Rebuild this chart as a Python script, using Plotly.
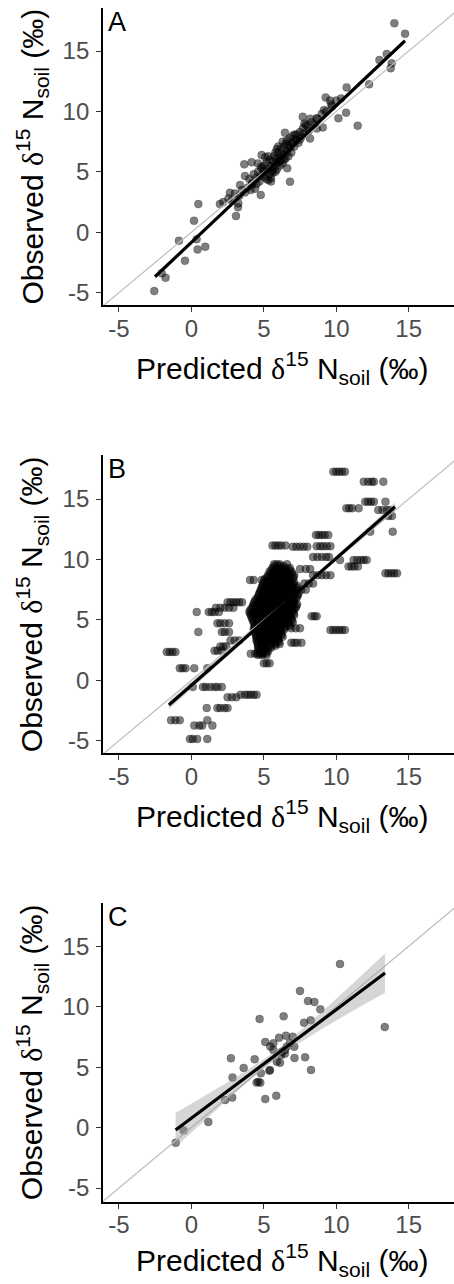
import plotly.graph_objects as go

W, H = 454, 1284

# ---- data ----
# panel A: (predicted, observed)
a_points = [
    (14.01, 17.29), (14.75, 16.43), (13.49, 14.75), (12.98, 14.25), (13.83, 13.98),
    (13.76, 13.57), (12.27, 12.24), (10.72, 11.99), (10.33, 11.08), (9.27, 11.16),
    (9.57, 10.9), (9.65, 10.6), (9.16, 10.12), (10.68, 9.9), (10.15, 9.43),
    (11.48, 8.82), (7.69, 9.56), (8.2, 9.4), (8.65, 9.43), (9.07, 8.68),
    (8.66, 8.58), (8.19, 7.77), (6.46, 8.24), (7.15, 8.1), (7.5, 7.7),
    (4.85, 6.39), (3.65, 5.62), (4.16, 5.8), (6.62, 5.29), (6.81, 4.18),
    (3.7, 4.65), (3.36, 3.91), (4.79, 3.08), (5.5, 4.2), (4.2, 3.95),
    (2.66, 3.27), (1.97, 2.33), (2.56, 2.8), (3.24, 2.39), (3.22, 2.06),
    (3.08, 1.34), (0.48, 2.33), (0.18, 0.95), (-0.86, -0.7), (0.36, -0.57),
    (0.43, -1.42), (0.96, -1.2), (-0.44, -2.36), (-1.78, -3.77), (-2.05, -3.4),
    (-2.56, -4.87), (5.31, 4.32),
    (3.0, 3.2), (3.3, 3.0), (3.5, 3.5), (3.7, 3.3), (3.9, 3.7), (4.0, 4.4),
    (4.1, 3.5), (4.2, 4.1), (4.3, 4.8), (4.4, 3.6), (4.5, 4.5), (4.5, 4.0),
    (4.6, 5.0), (4.7, 4.2), (4.8, 4.7), (4.8, 5.4), (4.9, 5.3), (5.0, 4.6),
    (5.0, 5.5), (5.1, 5.0), (5.2, 4.4), (5.2, 5.8), (5.3, 5.2), (5.4, 4.8),
    (5.4, 6.0), (5.5, 5.5), (5.5, 4.5), (5.6, 5.9), (5.6, 5.1), (5.7, 6.3),
    (5.7, 5.4), (5.8, 5.7), (5.8, 6.6), (5.9, 5.2), (5.9, 6.1), (6.0, 5.8),
    (6.0, 6.6), (6.1, 6.2), (6.1, 5.5), (6.2, 6.9), (6.2, 6.0), (6.3, 6.4),
    (6.3, 5.7), (6.4, 7.1), (6.4, 6.5), (6.5, 6.1), (6.5, 7.3), (6.6, 6.7),
    (6.6, 7.6), (6.7, 6.3), (6.7, 7.2), (6.8, 7.0), (6.8, 7.8), (6.9, 6.6),
    (7.0, 7.4), (7.0, 8.0), (7.1, 7.1), (7.2, 7.7), (7.3, 8.1), (7.4, 7.4),
    (7.5, 8.3), (7.6, 7.9), (7.7, 8.6), (7.8, 8.2), (8.0, 8.8), (8.1, 8.4),
    (8.3, 9.1), (8.5, 8.9), (8.7, 9.4), (9.0, 9.8), (9.3, 10.0), (9.7, 10.4),
    (10.0, 10.9), (2.2, 2.5), (2.8, 2.6), (5.3, 6.3), (5.9, 6.9), (6.3, 7.5),
    (4.6, 5.7), (5.1, 6.2), (6.9, 7.4), (7.3, 7.6), (7.9, 8.9), (5.6, 4.9),
    (6.1, 5.9), (6.4, 6.0), (5.8, 5.0), (5.0, 5.1), (6.0, 7.1), (7.8, 9.0),
]

# panel B: each observed value with the predicted values sharing it
b_obs = [
    17.26, 16.43, 14.78, 14.23, 14.09, 13.6, 12.3, 12.02, 11.15, 11.05, 11.1,
    10.2, 9.95, 9.42, 8.85, 8.7, 9.2, 8.3, 8.0, 7.5, 5.3, 4.16, 4.3, 3.1, 1.4,
    2.2, 6.45, 6.0, 5.65, 4.72, 4.0, 3.3, 2.8, 2.45, 2.35, 1.0, -0.55, -1.4,
    -1.2, -2.3, -3.3, -3.75, -4.85,
    9.6, 9.3, 9.0, 8.7, 8.4, 8.1, 7.8, 7.5, 7.2, 6.9, 6.6, 6.3, 6.0, 5.7, 5.4,
    5.1, 4.8, 4.5, 4.2, 3.9, 3.6, 3.3, 3.0, 2.7, 2.4, 2.1,
    9.45, 9.15, 8.85, 8.55, 8.25, 7.95, 7.65, 7.35, 7.05, 6.75, 6.45, 6.15,
    5.85, 5.55, 5.25, 4.95, 4.65, 4.35, 4.05, 3.75, 3.45, 3.15, 2.85, 2.55, 2.25,
]
b_pred = [
    [9.8, 10.0, 10.2, 10.4, 10.6],
    [11.9, 12.2, 12.45, 12.6, 13.25],
    [12.0, 12.2, 12.4, 12.6, 13.4],
    [10.7, 10.9, 11.1, 11.55],
    [12.9, 13.2, 13.5, 13.7],
    [13.6, 13.85],
    [12.35, 13.9],
    [8.6, 8.8, 9.0, 9.2, 9.45],
    [5.6, 5.8, 6.0, 6.2, 6.5],
    [7.0, 7.25, 7.5, 7.75, 8.0],
    [8.65, 8.9, 9.1, 9.35, 9.6],
    [8.4, 8.7, 9.0, 9.3, 9.5],
    [10.26, 11.2, 11.45, 11.7, 11.9, 12.1],
    [10.85, 11.05, 11.25, 11.5],
    [13.4, 13.6, 13.8, 14.0, 14.2],
    [8.4, 8.7, 9.0, 9.3, 9.6],
    [7.5, 7.9, 8.2],
    [4.05, 4.3, 4.86],
    [7.8, 8.1, 8.4],
    [7.6, 7.9],
    [8.3, 8.5, 8.65],
    [9.6, 9.8, 10.0, 10.2, 10.4, 10.6],
    [6.9, 7.2, 7.5],
    [6.9, 7.1, 7.3, 7.6],
    [5.0, 5.2, 5.4],
    [4.1, 4.4, 4.7, 4.9],
    [2.5, 2.7, 2.9, 3.1, 3.3, 3.5],
    [1.7, 2.0, 2.3, 2.6, 2.9],
    [0.37, 1.2, 1.4, 1.6, 1.9],
    [1.8, 2.0, 2.3, 2.6],
    [0.48, 2.1, 2.3, 2.6],
    [2.7, 3.0, 3.3],
    [2.0, 2.2, 2.4],
    [1.6, 1.8, 2.1],
    [-1.7, -1.5, -1.3, -1.1],
    [-0.8, -0.6, -0.4, 0.2, 1.1],
    [0.1, 0.8, 1.0, 1.3, 1.6, 1.8, 2.1],
    [2.5, 2.8, 3.1],
    [3.4, 3.7, 3.9, 4.1, 4.3, 4.5],
    [1.06, 1.8, 2.0, 2.3, 2.5],
    [-1.4, -1.1, -0.8, 1.1],
    [0.2, 0.55, 0.75, 1.45],
    [-0.1, 0.1, 0.4, 1.1],
    # dense central cloud
    [5.7, 5.9, 6.1, 6.6],
    [5.6, 5.9, 6.2, 6.5, 6.8],
    [5.4, 5.7, 6.0, 6.3, 6.6, 6.9],
    [5.3, 5.6, 5.9, 6.2, 6.5, 6.8, 7.1],
    [5.1, 5.5, 5.8, 6.1, 6.4, 6.7, 7.0],
    [5.0, 5.3, 5.6, 5.9, 6.2, 6.5, 6.8, 7.1],
    [4.9, 5.2, 5.5, 5.8, 6.1, 6.4, 6.7, 7.0, 7.3],
    [4.8, 5.1, 5.4, 5.7, 6.0, 6.3, 6.6, 6.9, 7.2],
    [4.7, 5.0, 5.3, 5.6, 5.9, 6.2, 6.5, 6.8, 7.1, 7.4],
    [4.6, 4.9, 5.2, 5.5, 5.8, 6.1, 6.4, 6.7, 7.0, 7.3],
    [4.4, 4.7, 5.0, 5.3, 5.6, 5.9, 6.2, 6.5, 6.8, 7.1],
    [4.3, 4.6, 4.9, 5.2, 5.5, 5.8, 6.1, 6.4, 6.7, 7.0, 7.3],
    [4.2, 4.5, 4.8, 5.1, 5.4, 5.7, 6.0, 6.3, 6.6, 6.9, 7.2],
    [4.0, 4.3, 4.6, 4.9, 5.2, 5.5, 5.8, 6.1, 6.4, 6.7, 7.0],
    [4.1, 4.4, 4.7, 5.0, 5.3, 5.6, 5.9, 6.2, 6.5, 6.8, 7.1],
    [4.2, 4.5, 4.8, 5.1, 5.4, 5.7, 6.0, 6.3, 6.6, 6.9],
    [4.3, 4.6, 4.9, 5.2, 5.5, 5.8, 6.1, 6.4, 6.7, 7.0],
    [4.4, 4.7, 5.0, 5.3, 5.6, 5.9, 6.2, 6.5, 6.8],
    [4.3, 4.6, 4.9, 5.2, 5.5, 5.8, 6.1, 6.4],
    [4.4, 4.7, 5.0, 5.3, 5.6, 5.9, 6.2],
    [4.5, 4.8, 5.1, 5.4, 5.7, 6.0, 6.3],
    [4.5, 4.8, 5.1, 5.4, 5.7, 6.0],
    [4.6, 4.9, 5.2, 5.5, 5.8, 6.1],
    [4.6, 4.9, 5.2, 5.5],
    [4.7, 5.0, 5.3],
    [4.6, 4.9, 5.2],
    [5.75, 6.05, 6.35],
    [5.55, 5.85, 6.15, 6.45, 6.75],
    [5.45, 5.75, 6.05, 6.35, 6.65, 6.95],
    [5.25, 5.55, 5.85, 6.15, 6.45, 6.75, 7.05],
    [5.05, 5.35, 5.65, 5.95, 6.25, 6.55, 6.85],
    [4.95, 5.25, 5.55, 5.85, 6.15, 6.45, 6.75, 7.05],
    [4.85, 5.15, 5.45, 5.75, 6.05, 6.35, 6.65, 6.95, 7.25],
    [4.75, 5.05, 5.35, 5.65, 5.95, 6.25, 6.55, 6.85, 7.15],
    [4.65, 4.95, 5.25, 5.55, 5.85, 6.15, 6.45, 6.75, 7.05, 7.35],
    [4.5, 4.8, 5.1, 5.4, 5.7, 6.0, 6.3, 6.6, 6.9, 7.2],
    [4.35, 4.65, 4.95, 5.25, 5.55, 5.85, 6.15, 6.45, 6.75, 7.05],
    [4.25, 4.55, 4.85, 5.15, 5.45, 5.75, 6.05, 6.35, 6.65, 6.95, 7.25],
    [4.1, 4.4, 4.7, 5.0, 5.3, 5.6, 5.9, 6.2, 6.5, 6.8, 7.1],
    [4.05, 4.35, 4.65, 4.95, 5.25, 5.55, 5.85, 6.15, 6.45, 6.75, 7.05],
    [4.15, 4.45, 4.75, 5.05, 5.35, 5.65, 5.95, 6.25, 6.55, 6.85],
    [4.25, 4.55, 4.85, 5.15, 5.45, 5.75, 6.05, 6.35, 6.65, 6.95],
    [4.35, 4.65, 4.95, 5.25, 5.55, 5.85, 6.15, 6.45, 6.75],
    [4.35, 4.65, 4.95, 5.25, 5.55, 5.85, 6.15, 6.45],
    [4.35, 4.65, 4.95, 5.25, 5.55, 5.85, 6.15],
    [4.45, 4.75, 5.05, 5.35, 5.65, 5.95, 6.25],
    [4.5, 4.8, 5.1, 5.4, 5.7, 6.0],
    [4.55, 4.85, 5.15, 5.45, 5.75, 6.05],
    [4.6, 4.9, 5.2, 5.5, 5.8],
    [4.65, 4.95, 5.25],
    [4.55, 4.85, 5.15],
]

# panel C: (predicted, observed)
c_points = [
    (10.26, 13.53), (13.35, 8.32), (7.5, 11.3), (8.05, 10.47), (8.49, 10.39),
    (8.9, 9.78), (4.71, 8.98), (6.37, 9.2), (7.78, 8.68), (8.24, 8.87),
    (5.1, 7.08), (5.66, 6.97), (6.05, 7.43), (6.53, 7.6), (7.0, 7.52),
    (7.1, 6.69), (2.73, 5.73), (4.37, 5.65), (7.12, 5.76), (7.85, 5.81),
    (3.61, 4.93), (8.26, 4.76), (2.84, 4.14), (5.38, 4.7), (4.62, 3.79),
    (4.76, 3.71), (5.1, 2.36), (5.86, 2.63), (2.82, 2.48), (2.33, 2.28),
    (1.17, 0.47), (-0.53, -0.25), (-1.08, -1.26), (5.66, 6.42), (6.24, 6.27),
    (6.47, 6.42), (6.12, 5.36), (5.9, 5.45), (6.58, 6.69), (5.43, 4.77),
    (6.8, 7.0), (5.45, 6.7), (4.5, 3.72), (4.8, 4.5), (6.2, 6.0), (6.45, 6.1),
]

# fitted lines and confidence bands
fit_a_x = [-2.51, 14.75]
fit_a_y = [-3.68, 15.85]
fit_b_x = [-1.55, 14.06]
fit_b_y = [-2.05, 14.36]
fit_c_x = [-1.09, 13.37]
fit_c_y = [-0.2, 12.78]

band_b_x = [-1.55, 2.0, 6.0, 10.0, 14.06]
band_b_lo = [-2.4, 1.48, 5.79, 9.89, 14.01]
band_b_hi = [-1.7, 1.88, 5.99, 10.29, 14.71]
band_c_x = [-1.09, 1.0, 3.0, 5.0, 6.0, 7.0, 9.0, 11.0, 13.37]
band_c_lo = [-1.6, 0.7, 2.85, 4.9, 5.83, 6.67, 8.15, 9.55, 11.15]
band_c_hi = [1.2, 2.65, 4.1, 5.65, 6.5, 7.47, 9.55, 11.75, 14.4]

one_to_one = [-10, 25]

tick_vals = [-5, 0, 5, 10, 15]
tick_text = ['-5', '0', '5', '10', '15']
panel_labels = ['A', 'B', 'C']

# ---- layout geometry (pixels) ----
x_left = 103
panels = [
    dict(top=8, bottom=305, yr=[-6.02, 18.56], title_gap=63),
    dict(top=455, bottom=753.3, yr=[-6.04, 18.64], title_gap=63),
    dict(top=902.7, bottom=1201.7, yr=[-6.13, 18.6], title_gap=58),
]
x_range = [-6.1, 18.13]

b_x = [p for row in b_pred for p in row]
b_y = [o for o, row in zip(b_obs, b_pred) for _ in row]

scatter_data = [
    ([p[0] for p in a_points], [p[1] for p in a_points]),
    (b_x, b_y),
    ([p[0] for p in c_points], [p[1] for p in c_points]),
]
fits = [(fit_a_x, fit_a_y), (fit_b_x, fit_b_y), (fit_c_x, fit_c_y)]
bands = [None, (band_b_x, band_b_lo, band_b_hi), (band_c_x, band_c_lo, band_c_hi)]

FONT = 'Liberation Sans, Arial, sans-serif'
delta = '<span style="font-family:Liberation Serif, serif">δ</span>'
x_title = 'Predicted ' + delta + '<sup>15</sup> N<sub>soil</sub> (‰)'
y_title = 'Observed ' + delta + '<sup>15</sup> N<sub>soil</sub> (‰)'

fig = go.Figure()
annotations = []

for i, pan in enumerate(panels):
    n = '' if i == 0 else str(i + 1)
    xa, ya = 'x' + n, 'y' + n
    px, py = scatter_data[i]

    # points
    fig.add_trace(go.Scatter(
        x=px, y=py, mode='markers', xaxis=xa, yaxis=ya,
        marker=dict(size=8, color='rgba(0,0,0,0.5)',
                    line=dict(width=0.6, color='rgba(0,0,0,0.35)')),
        hoverinfo='skip'))

    # 1:1 line
    fig.add_trace(go.Scatter(
        x=one_to_one, y=one_to_one, mode='lines', xaxis=xa, yaxis=ya,
        line=dict(color='#BEBEBE', width=1.2), hoverinfo='skip'))

    # confidence band
    if bands[i] is not None:
        bx, lo, hi = bands[i]
        fig.add_trace(go.Scatter(x=bx, y=lo, mode='lines', xaxis=xa, yaxis=ya,
                                 line=dict(width=0), hoverinfo='skip'))
        fig.add_trace(go.Scatter(x=bx, y=hi, mode='lines', xaxis=xa, yaxis=ya,
                                 line=dict(width=0), fill='tonexty',
                                 fillcolor='rgba(153,153,153,0.4)', hoverinfo='skip'))

    # regression line
    fx, fy = fits[i]
    fig.add_trace(go.Scatter(
        x=fx, y=fy, mode='lines', xaxis=xa, yaxis=ya,
        line=dict(color='black', width=3.2), hoverinfo='skip'))

    y_dom = [1 - pan['bottom'] / H, 1 - pan['top'] / H]
    axis_common = dict(
        showline=True, linecolor='black', linewidth=1.8, mirror=False,
        ticks='outside', ticklen=5, tickwidth=1.3, tickcolor='#333333',
        tickvals=tick_vals, ticktext=tick_text,
        tickfont=dict(family=FONT, size=24, color='#4D4D4D'),
        showgrid=False, zeroline=False, fixedrange=True,
    )
    fig.update_layout(**{
        'xaxis' + n: dict(domain=[x_left / W, 1], range=x_range, anchor=ya,
                          ticklabelstandoff=-4, **axis_common),
        'yaxis' + n: dict(domain=y_dom, range=pan['yr'], anchor=xa,
                          ticklabelstandoff=2, **axis_common),
    })

    mid_y = (pan['top'] + pan['bottom']) / 2
    annotations.append(dict(
        text=y_title, x=32 / W, y=1 - mid_y / H, xref='paper', yref='paper',
        textangle=-90, showarrow=False, xanchor='center', yanchor='middle',
        font=dict(family=FONT, size=30, color='black')))
    annotations.append(dict(
        text=x_title, x=(x_left + W) / 2 / W + 3 / W,
        y=1 - (pan['bottom'] + pan['title_gap']) / H,
        xref='paper', yref='paper', showarrow=False,
        xanchor='center', yanchor='middle',
        font=dict(family=FONT, size=30, color='black')))
    annotations.append(dict(
        text=panel_labels[i], x=106 / W, y=1 - (pan['top'] - 3) / H,
        xref='paper', yref='paper', showarrow=False,
        xanchor='left', yanchor='top',
        font=dict(family=FONT, size=27, color='black')))

fig.update_layout(
    width=W, height=H,
    margin=dict(l=0, r=0, t=0, b=0),
    paper_bgcolor='white', plot_bgcolor='white',
    showlegend=False,
    annotations=annotations,
)

fig.write_html("out.html", config={'displayModeBar': False},
               post_script="document.body.style.margin='0px';")
